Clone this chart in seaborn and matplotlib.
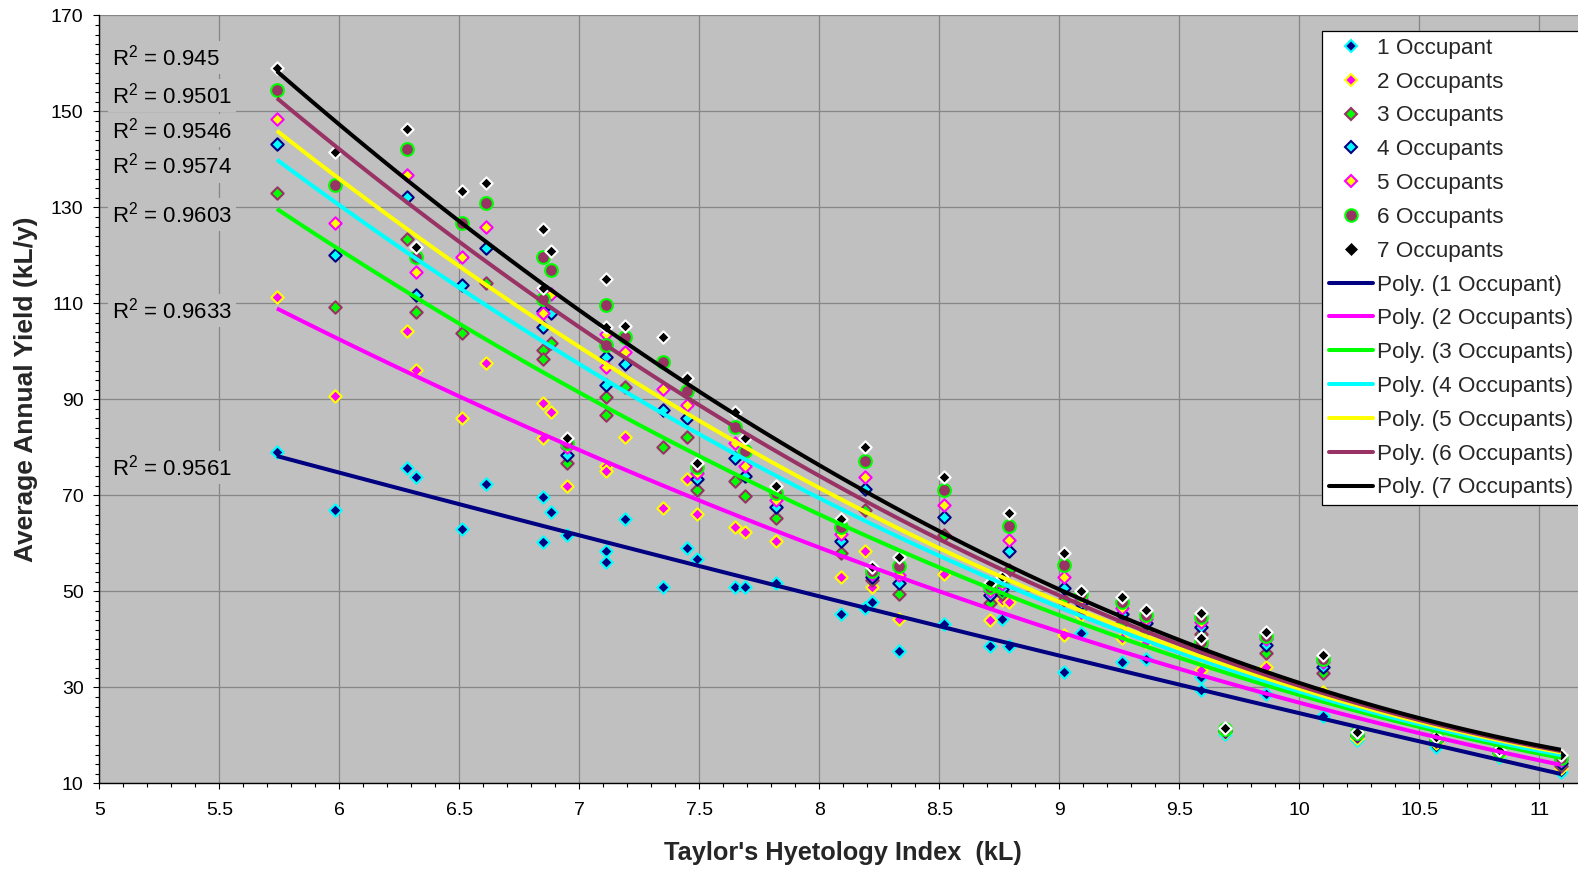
import numpy as np
import matplotlib
matplotlib.use("Agg")
import matplotlib.pyplot as plt
from matplotlib.lines import Line2D
from matplotlib.ticker import MultipleLocator
import seaborn as sns

# ---------------- data ----------------
x_index = [5.74, 5.98, 6.28, 6.32, 6.51, 6.61, 6.85, 6.85, 6.88, 6.95,
           7.11, 7.11, 7.19, 7.35, 7.45, 7.49, 7.65, 7.69, 7.82, 8.09,
           8.19, 8.22, 8.33, 8.52, 8.71, 8.76, 8.79, 9.02, 9.09, 9.26,
           9.36, 9.59, 9.59, 9.69, 9.86, 10.10, 10.24, 10.57, 10.83, 11.09]

occ1 = [79.0, 66.9, 75.7, 73.9, 63.0, 72.3, 69.6, 60.3, 66.6, 61.7,
        58.5, 56.2, 65.0, 51.0, 59.1, 56.7, 51.0, 51.0, 51.8, 45.3,
        46.5, 47.8, 37.6, 43.2, 38.6, 44.2, 38.6, 33.2, 41.3, 35.3,
        35.9, 32.1, 29.4, 20.3, 28.6, 24.0, 19.0, 17.6, 15.5, 12.4]
occ2 = [111.4, 90.7, 104.3, 96.1, 86.0, 97.5, 89.2, 81.9, 87.4, 71.9,
        76.0, 75.0, 82.2, 67.3, 73.4, 66.2, 63.5, 62.4, 60.5, 53.0,
        58.3, 50.8, 44.2, 53.6, 44.0, 48.2, 47.8, 40.9, 45.0, 40.3,
        39.5, 36.5, 33.6, 20.7, 34.2, 29.0, 19.5, 18.3, 16.0, 13.2]
occ3 = [132.9, 109.2, 123.5, 108.1, 103.9, 114.2, 100.3, 98.3, 101.7, 76.7,
        90.4, 86.7, 92.6, 80.1, 82.2, 71.2, 73.0, 69.9, 65.3, 58.0,
        66.9, 52.4, 49.4, 61.7, 47.5, 49.5, 54.4, 48.2, 46.5, 43.5,
        42.0, 41.2, 37.0, 20.9, 37.2, 32.9, 19.8, 18.8, 16.3, 13.7]
occ4 = [143.1, 120.1, 132.2, 111.7, 113.8, 121.5, 108.5, 105.0, 108.0, 78.4,
        98.9, 93.0, 97.4, 87.8, 86.2, 73.4, 77.8, 74.0, 67.5, 60.5,
        71.3, 53.0, 51.7, 65.4, 49.2, 50.5, 58.3, 50.6, 47.5, 45.2,
        43.3, 42.6, 38.0, 21.0, 38.9, 34.3, 20.0, 19.0, 16.5, 14.2]
occ5 = [148.4, 126.7, 136.7, 116.5, 119.7, 126.0, 113.0, 107.9, 112.0, 80.0,
        103.6, 96.7, 99.9, 92.1, 88.8, 74.6, 80.8, 76.2, 69.0, 61.9,
        73.9, 53.6, 53.4, 68.0, 50.1, 51.5, 60.7, 52.9, 48.3, 46.5,
        44.2, 43.6, 38.8, 21.1, 40.0, 35.3, 20.2, 19.2, 16.6, 14.8]
occ6 = [154.4, 134.6, 142.1, 119.6, 126.8, 131.0, 119.7, 110.8, 116.9, 80.8,
        109.6, 101.3, 103.0, 97.8, 91.8, 75.8, 84.3, 79.3, 70.4, 63.5,
        77.1, 54.3, 55.3, 71.1, 51.0, 52.3, 63.7, 55.5, 49.4, 47.8,
        45.1, 44.7, 39.5, 21.3, 40.7, 36.0, 20.4, 19.4, 16.8, 15.3]
occ7 = [159.1, 141.6, 146.3, 121.8, 133.5, 135.0, 125.4, 113.1, 120.8, 81.9,
        115.0, 105.1, 105.3, 103.0, 94.4, 76.8, 87.4, 81.9, 71.9, 65.1,
        80.1, 55.1, 57.1, 73.9, 51.8, 53.0, 66.3, 58.0, 50.1, 48.9,
        46.1, 45.5, 40.3, 21.5, 41.5, 36.7, 20.6, 19.6, 17.0, 15.9]

series_names = ["1 Occupant", "2 Occupants", "3 Occupants", "4 Occupants",
                "5 Occupants", "6 Occupants", "7 Occupants"]
trend_names = ["Poly. (1 Occupant)", "Poly. (2 Occupants)", "Poly. (3 Occupants)",
               "Poly. (4 Occupants)", "Poly. (5 Occupants)", "Poly. (6 Occupants)",
               "Poly. (7 Occupants)"]
r2_texts = ["0.945", "0.9501", "0.9546", "0.9574", "0.9603", "0.9633", "0.9561"]

x_ticks = [5, 5.5, 6, 6.5, 7, 7.5, 8, 8.5, 9, 9.5, 10, 10.5, 11]
x_tick_labels = ["5", "5.5", "6", "6.5", "7", "7.5", "8", "8.5", "9", "9.5", "10", "10.5", "11"]
y_ticks = [10, 30, 50, 70, 90, 110, 130, 150, 170]
y_tick_labels = ["10", "30", "50", "70", "90", "110", "130", "150", "170"]

x_title = "Taylor's Hyetology Index  (kL)"
y_title = "Average Annual Yield (kL/y)"

# ---------------- styling ----------------
sns.set_style("ticks")
plt.rcParams["font.family"] = ["Liberation Sans", "DejaVu Sans"]
plt.rcParams["mathtext.fontset"] = "custom"
plt.rcParams["mathtext.rm"] = "Liberation Sans"
plt.rcParams["mathtext.it"] = "Liberation Sans:italic"
plt.rcParams["mathtext.bf"] = "Liberation Sans:bold"

all_series = [occ1, occ2, occ3, occ4, occ5, occ6, occ7]
marker_styles = [
    ("D", "#000080", "#00FFFF"),
    ("D", "#FF00FF", "#FFFF00"),
    ("D", "#00FF00", "#993366"),
    ("D", "#00FFFF", "#000080"),
    ("D", "#FFFF00", "#FF00FF"),
    ("o", "#993366", "#00FF00"),
    ("D", "#000000", "#FFFFFF"),
]
line_colors = ["#000080", "#FF00FF", "#00FF00", "#00FFFF", "#FFFF00", "#993366", "#000000"]

W, H = 1578, 869
fig = plt.figure(figsize=(W / 100, H / 100), dpi=100)
left_px, right_px, top_px, bottom_px = 99.3, 1578.0, 15.3, 783.3
ax = fig.add_axes([left_px / W, 1 - bottom_px / H,
                   (right_px - left_px) / W, (bottom_px - top_px) / H])
ax.set_facecolor("#C0C0C0")

# markers
for i, ys in enumerate(all_series):
    m, face, edge = marker_styles[i]
    sns.scatterplot(x=x_index, y=ys, marker=m, color=face, edgecolor=edge,
                    linewidth=1.5, s=(84 if m == "o" else 40), ax=ax,
                    zorder=3 + i, legend=False)

# polynomial (order 2) trendlines
for i, ys in enumerate(all_series):
    sns.regplot(x=np.array(x_index), y=np.array(ys), order=2, ci=None,
                scatter=False, truncate=True, ax=ax,
                line_kws=dict(color=line_colors[i], lw=2.9, zorder=12 + i,
                              solid_capstyle="butt"))

# R^2 labels
r2_y = [161.2, 153.3, 146.0, 138.6, 128.4, 108.4, 75.7]
for txt, yv in zip(r2_texts, r2_y):
    ax.text(5.053, yv, r"R$^{2}$ = " + txt, fontsize=16, ha="left", va="center",
            color="black", zorder=6,
            bbox=dict(facecolor="#C0C0C0", edgecolor="none", pad=2.5))

# axes, ticks, grid
ax.set_xlim(5, 5 + (right_px - left_px) / 240.0)
ax.set_ylim(10, 170)
ax.set_xticks(x_ticks)
ax.set_xticklabels(x_tick_labels)
ax.set_yticks(y_ticks)
ax.set_yticklabels(y_tick_labels)
ax.xaxis.set_minor_locator(MultipleLocator(0.1))
ax.yaxis.set_minor_locator(MultipleLocator(2))
ax.tick_params(axis="both", which="major", direction="out", length=4.3, width=0.8,
               color="black", labelsize=14, labelcolor="black")
ax.tick_params(axis="both", which="minor", direction="out", length=3.2, width=0.8,
               color="black")
ax.tick_params(axis="x", which="major", pad=9.5)
ax.tick_params(axis="y", which="major", pad=7)
ax.grid(True, which="major", color="#868686", lw=0.9)
ax.set_axisbelow(True)
for side in ["top", "right"]:
    ax.spines[side].set_visible(False)
for side in ["left", "bottom"]:
    ax.spines[side].set_color("black")
    ax.spines[side].set_linewidth(1.0)

ax.set_xlabel(x_title, fontsize=18.3, fontweight="bold")
ax.set_ylabel(y_title, fontsize=19, fontweight="bold")
ax.xaxis.set_label_coords((843 - left_px) / (right_px - left_px),
                          -(841 - bottom_px) / (bottom_px - top_px))
ax.yaxis.set_label_coords(-(left_px - 38) / (right_px - left_px),
                          1 - (389 - top_px) / (bottom_px - top_px))

# legend
handles = []
for i in range(7):
    m, face, edge = marker_styles[i]
    if i == 6:
        edge = "#000000"
    handles.append(Line2D([0], [0], marker=m, ls="None", markerfacecolor=face,
                          markeredgecolor=edge, markersize=(9 if m == "o" else 6.2),
                          markeredgewidth=1.5 if i < 6 else 0.5))
for i in range(7):
    handles.append(Line2D([0], [0], color=line_colors[i], lw=2.9))
leg = ax.legend(handles, series_names + trend_names, loc="upper left",
                bbox_to_anchor=(1322 / W, 1 - 31 / H), bbox_transform=fig.transFigure,
                frameon=True, fancybox=False, framealpha=1, facecolor="white",
                edgecolor="black", fontsize=16.2, handlelength=1.95,
                handletextpad=0.21, borderpad=0.3, labelspacing=0.57,
                borderaxespad=0)
leg.get_frame().set_linewidth(0.9)
leg.set_zorder(30)

fig.savefig("out.png", dpi=100, facecolor="white")
